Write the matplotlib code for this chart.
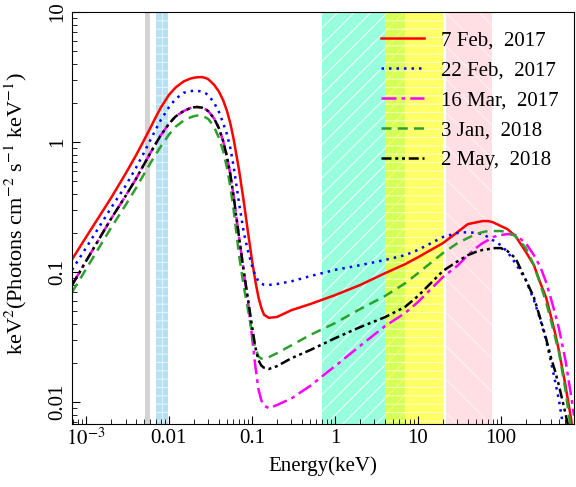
import matplotlib
matplotlib.use("Agg")
import matplotlib.pyplot as plt

# energy grid (keV)
energy = [6.8e-4, 0.001, 0.002, 0.003, 0.004, 0.005, 0.006, 0.007, 0.008, 0.01,
          0.012, 0.015, 0.018, 0.02, 0.022, 0.025, 0.028, 0.03, 0.035, 0.04,
          0.045, 0.05, 0.055, 0.06, 0.07, 0.08, 0.09, 0.1, 0.11, 0.12, 0.13,
          0.14, 0.16, 0.2, 0.3, 0.5, 1, 2, 4, 7, 10, 20, 30, 40, 50, 60, 70,
          80, 100, 120, 150, 200, 250, 300, 350, 400, 450, 500, 600, 700, 760]

# keV^2 (Photons cm^-2 s^-1 keV^-1)
feb07_2017 = [0.125, 0.185, 0.37, 0.57, 0.787, 1.03, 1.29, 1.57, 1.84, 2.30,
              2.62, 2.92, 3.07, 3.12, 3.15, 3.16, 3.10, 3.03, 2.76, 2.45,
              2.10, 1.74, 1.39, 1.07, 0.61, 0.345, 0.20, 0.125, 0.0855, 0.064,
              0.053, 0.047, 0.0445, 0.0452, 0.051, 0.0567, 0.0665, 0.0794, 0.098,
              0.115, 0.130, 0.167, 0.203, 0.234, 0.241, 0.247, 0.247, 0.242,
              0.226, 0.214, 0.189, 0.143, 0.113, 0.082, 0.064, 0.046, 0.034,
              0.025, 0.0135, 0.0075, 0.0051]
feb22_2017 = [0.104, 0.153, 0.31, 0.46, 0.632, 0.826, 1.04, 1.26, 1.48, 1.85,
              2.14, 2.39, 2.46, 2.48, 2.48, 2.44, 2.36, 2.28, 2.01, 1.71,
              1.40, 1.15, 0.90, 0.66, 0.34, 0.20, 0.145, 0.112, 0.094, 0.085,
              0.0815, 0.080, 0.0797, 0.081, 0.085, 0.093, 0.104, 0.113, 0.124,
              0.135, 0.148, 0.186, 0.20, 0.203, 0.20, 0.196, 0.186, 0.176,
              0.161, 0.143, 0.117, 0.0868, 0.061, 0.0427, 0.030, 0.0207, 0.0145,
              0.0104, 0.0051, 0.0025, 0.0017]
mar16_2017 = [0.0794, 0.121, 0.256, 0.384, 0.519, 0.671, 0.828, 0.98, 1.13, 1.38,
              1.57, 1.73, 1.82, 1.85, 1.86, 1.84, 1.78, 1.72, 1.52, 1.28,
              1.02, 0.776, 0.564, 0.39, 0.186, 0.100, 0.058, 0.0325, 0.019, 0.0126,
              0.0103, 0.0094, 0.0090, 0.0095, 0.0107, 0.0133, 0.0189, 0.027,
              0.0384, 0.0484, 0.0588, 0.0916, 0.112, 0.135, 0.153, 0.167, 0.176,
              0.186, 0.193, 0.196, 0.193, 0.167, 0.135, 0.109, 0.084, 0.063,
              0.048, 0.037, 0.021, 0.0113, 0.0079]
jan03_2018 = [0.070, 0.105, 0.218, 0.327, 0.441, 0.565, 0.69, 0.81, 0.927, 1.14,
              1.31, 1.46, 1.545, 1.58, 1.60, 1.59, 1.54, 1.50, 1.31, 1.08,
              0.857, 0.637, 0.453, 0.308, 0.135, 0.077, 0.051, 0.0345, 0.026,
              0.0225, 0.0216, 0.0217, 0.0222, 0.0238, 0.0274, 0.0328, 0.0405,
              0.0519, 0.0654, 0.082, 0.098, 0.140, 0.167, 0.183, 0.196, 0.203,
              0.207, 0.207, 0.207, 0.203, 0.189, 0.153, 0.113, 0.080, 0.059,
              0.0427, 0.0316, 0.0243, 0.0124, 0.0061, 0.0043]
may02_2018 = [0.0794, 0.121, 0.256, 0.384, 0.519, 0.671, 0.828, 0.98, 1.13, 1.38,
              1.57, 1.73, 1.82, 1.85, 1.86, 1.84, 1.78, 1.72, 1.52, 1.28,
              1.02, 0.776, 0.564, 0.39, 0.186, 0.1005, 0.0614, 0.039, 0.0265,
              0.0210, 0.0191, 0.0184, 0.0180, 0.0189, 0.0218, 0.0251, 0.031,
              0.0377, 0.045, 0.054, 0.0654, 0.102, 0.121, 0.135, 0.143, 0.148,
              0.150, 0.153, 0.153, 0.145, 0.128, 0.0868, 0.064, 0.0435, 0.031,
              0.0222, 0.0173, 0.0135, 0.0082, 0.0051, 0.0039]

labels = ["7 Feb,  2017", "22 Feb,  2017", "16 Mar,  2017",
          "3 Jan,  2018", "2 May,  2018"]

# instrument bands (keV)
band_gray = (0.0052, 0.0059)
band_uv = (0.0069, 0.0098)
band_soft = (0.7, 7.0)
band_mid = (4.0, 20.0)
band_hard = (22.0, 79.0)

plt.rcParams["font.family"] = ["Liberation Serif", "DejaVu Serif"]
plt.rcParams["mathtext.fontset"] = "stix"
plt.rcParams["hatch.linewidth"] = 0.8

fig = plt.figure(figsize=(5.76, 4.87), dpi=100)
ax = fig.add_axes([0.125, 0.1294, 0.8715, 0.846])

ax.axvspan(*band_gray, color="lightgray", lw=0, zorder=0)
ax.axvspan(*band_uv, facecolor="skyblue", edgecolor="white", alpha=0.6,
           hatch="++", lw=0, zorder=0)
ax.axvspan(*band_soft, facecolor="aquamarine", edgecolor="white", alpha=0.8,
           hatch="//", lw=0, zorder=0)
ax.axvspan(*band_mid, facecolor="yellow", edgecolor="white", alpha=0.6,
           hatch="--", lw=0, zorder=0)
ax.axvspan(*band_hard, facecolor="pink", edgecolor="white", alpha=0.5,
           hatch="\\", lw=0, zorder=0)

ax.plot(energy, feb07_2017, color="red", lw=1.8, ls="-", label=labels[0])
ax.plot(energy, feb22_2017, color="blue", lw=1.8, ls=(0, (1, 2)), label=labels[1])
ax.plot(energy, mar16_2017, color="magenta", lw=1.8, ls=(0, (6, 2, 1.5, 2)),
        label=labels[2])
ax.plot(energy, jan03_2018, color="#2ca02c", lw=1.8, ls=(0, (4, 2.5)),
        label=labels[3])
ax.plot(energy, may02_2018, color="black", lw=1.8,
        ls=(0, (4, 1.5, 1.2, 1.5, 1.2, 1.5)), label=labels[4])

ax.set_xscale("log")
ax.set_yscale("log")
ax.set_xlim(6.8e-4, 760)
ax.set_ylim(0.0068, 10)

ax.set_xticks([1e-3, 0.01, 0.1, 1, 10, 100])
ax.set_xticklabels(["$10^{-3}$", "0.01", "0.1", "1", "10", "100"])
ax.set_yticks([0.01, 0.1, 1, 10])
ax.set_yticklabels(["0.01", "0.1", "1", "10"], rotation=90, va="center")
ax.tick_params(which="both", direction="in", top=False, right=False,
               labelsize=15)
ax.tick_params(which="major", length=6)
ax.tick_params(which="minor", length=3.5)

ax.set_xlabel("Energy(keV)", fontsize=15)
ax.set_ylabel("keV$^2$(Photons cm$^{-2}$ s$^{-1}$ keV$^{-1}$)", fontsize=16)
ax.yaxis.set_label_coords(-0.085, 0.51)

ax.legend(loc="upper left", bbox_to_anchor=(0.616, 0.955), frameon=False,
          fontsize=15, handlelength=2.05, handletextpad=0.8, labelspacing=0.5,
          borderpad=0, borderaxespad=0)

fig.savefig("out.png", dpi=100)
